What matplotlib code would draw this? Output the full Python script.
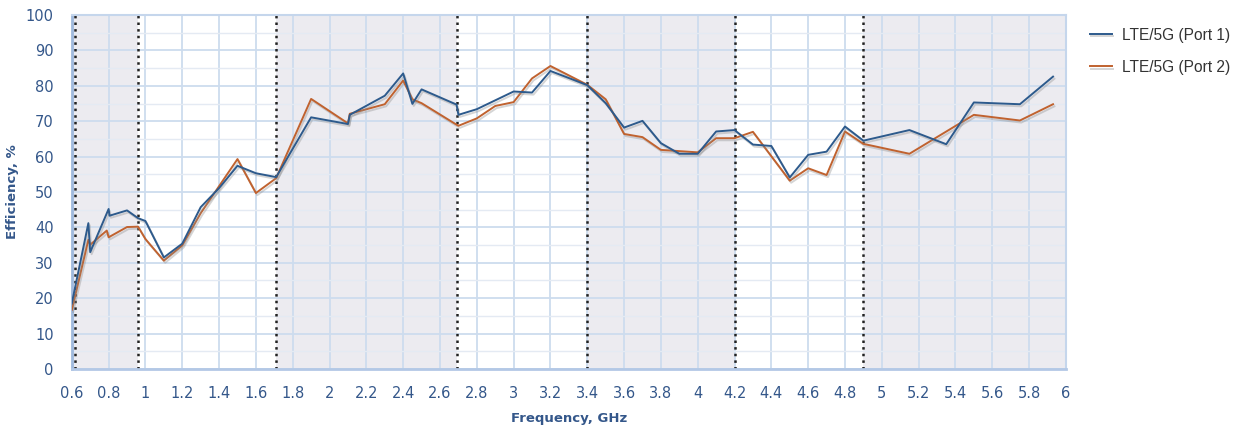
import matplotlib.pyplot as plt
import matplotlib.patheffects as pe
from matplotlib.ticker import MultipleLocator

# Port 1 efficiency (blue)
f1 = [0.6, 0.69, 0.70, 0.80, 0.805, 0.90, 0.96, 1.0, 1.1, 1.2, 1.3, 1.4, 1.5, 1.6, 1.71,
      1.9, 2.1, 2.11, 2.3, 2.4, 2.45, 2.5, 2.69, 2.70, 2.8, 3.0, 3.1, 3.2, 3.4, 3.5,
      3.6, 3.7, 3.8, 3.9, 4.0, 4.1, 4.2, 4.3, 4.4, 4.5, 4.6, 4.7, 4.8, 4.9, 5.15,
      5.35, 5.5, 5.75, 5.93]
eff1 = [18.5, 41.2, 33.0, 45.2, 43.3, 44.8, 42.6, 41.8, 31.5, 35.4, 45.7, 51.1, 57.4, 55.3, 54.2,
        71.1, 69.2, 71.8, 77.2, 83.5, 74.9, 79.0, 74.7, 71.8, 73.4, 78.4, 78.1, 84.2, 80.2, 75.1,
        68.2, 70.1, 63.8, 60.8, 60.8, 67.1, 67.5, 63.4, 63.0, 54.1, 60.5, 61.4, 68.5, 64.5, 67.5,
        63.5, 75.3, 74.8, 82.6]

# Port 2 efficiency (orange)
f2 = [0.6, 0.69, 0.70, 0.79, 0.80, 0.90, 0.96, 1.0, 1.1, 1.2, 1.3, 1.5, 1.6, 1.71,
      1.9, 2.1, 2.11, 2.3, 2.4, 2.45, 2.5, 2.7, 2.8, 2.9, 3.0, 3.1, 3.2, 3.4, 3.5,
      3.6, 3.7, 3.8, 4.0, 4.1, 4.2, 4.3, 4.5, 4.6, 4.7, 4.8, 4.9, 5.15, 5.5, 5.75, 5.93]
eff2 = [16.7, 36.5, 35.1, 39.1, 37.2, 40.1, 40.2, 36.7, 30.6, 34.9, 44.0, 59.3, 49.7, 53.9,
        76.3, 69.4, 72.1, 74.8, 81.5, 76.2, 75.1, 68.7, 70.8, 74.3, 75.4, 82.1, 85.6, 80.3, 76.2,
        66.4, 65.5, 61.9, 61.2, 65.2, 65.2, 67.0, 53.2, 56.7, 54.8, 67.1, 63.6, 60.8, 71.8, 70.2, 74.8]

# LTE band edges (GHz)
band_edges = [0.617, 0.96, 1.71, 2.69, 3.4, 4.2, 4.9]
shaded = [(0.6, 0.96), (1.71, 2.69), (3.4, 4.2), (4.9, 6.0)]

blue = '#2d5a8c'
orange = '#c0622f'
txt = '#34578a'

fig = plt.figure(figsize=(12.38, 4.30), dpi=100)
ax = fig.add_axes([0.058, 0.142, 0.803, 0.823])

for a, b in shaded:
    ax.axvspan(a, b, color='#ecebf0', zorder=0, lw=0)

ax.xaxis.set_major_locator(MultipleLocator(0.2))
ax.yaxis.set_major_locator(MultipleLocator(10))
ax.yaxis.set_minor_locator(MultipleLocator(5))
ax.grid(which='major', color='#cddcee', lw=1.3, zorder=1)
ax.grid(which='minor', axis='y', color='#e4eaf3', lw=1.0, zorder=1)

for e in band_edges:
    ax.axvline(e, color='#222222', ls=':', lw=1.8, zorder=2)

shadow = [pe.SimpleLineShadow(offset=(1, -1.5), shadow_color='#888888', alpha=0.35), pe.Normal()]
ax.plot(f1, eff1, color=blue, lw=1.4, label='LTE/5G (Port 1)', zorder=4, path_effects=shadow)
ax.plot(f2, eff2, color=orange, lw=1.4, label='LTE/5G (Port 2)', zorder=3, path_effects=shadow)

ax.set_xlim(0.6, 6.0)
ax.set_ylim(0, 100)
ax.set_xticks([0.6, 0.8, 1, 1.2, 1.4, 1.6, 1.8, 2, 2.2, 2.4, 2.6, 2.8, 3, 3.2, 3.4, 3.6,
               3.8, 4, 4.2, 4.4, 4.6, 4.8, 5, 5.2, 5.4, 5.6, 5.8, 6])
ax.set_xticklabels(['0.6', '0.8', '1', '1.2', '1.4', '1.6', '1.8', '2', '2.2', '2.4', '2.6',
                    '2.8', '3', '3.2', '3.4', '3.6', '3.8', '4', '4.2', '4.4', '4.6', '4.8',
                    '5', '5.2', '5.4', '5.6', '5.8', '6'])
ax.tick_params(which='both', length=0, colors=txt, labelsize=10.5)
ax.tick_params(axis='x', pad=12)
ax.tick_params(axis='y', pad=13)

for s in ax.spines.values():
    s.set_color('#c5d6ec')
    s.set_linewidth(1.5)
ax.spines['left'].set_color('#9fb9dd')
ax.spines['left'].set_linewidth(2)
ax.spines['bottom'].set_color('#b3c8e6')
ax.spines['bottom'].set_linewidth(2)

ax.set_xlabel('Frequency, GHz', color=txt, fontsize=9.5, fontweight='bold', labelpad=8)
ax.set_ylabel('Efficiency, %', color=txt, fontsize=9.5, fontweight='bold', labelpad=5)

fig.legend(loc='upper left', bbox_to_anchor=(0.869, 0.968), frameon=False,
           prop={'family': 'Liberation Sans', 'size': 11.2}, labelcolor='#333333',
           handlelength=1.4, handletextpad=0.7, labelspacing=1.1)

fig.savefig('out.png', dpi=100)
